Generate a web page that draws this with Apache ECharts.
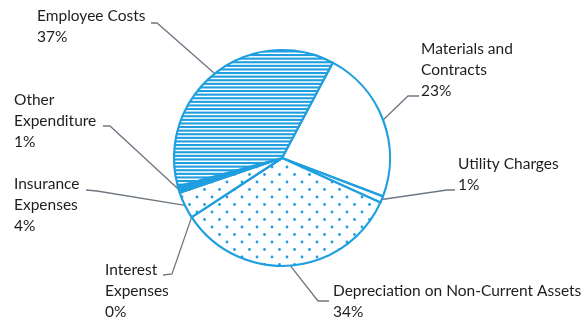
<!DOCTYPE html>
<html>
<head>
<meta charset="utf-8">
<script src="https://cdn.jsdelivr.net/npm/echarts@6/dist/echarts.min.js"></script>
<style>
  html, body { margin: 0; padding: 0; background: #ffffff; }
  #chart { width: 585px; height: 322px; }
</style>
</head>
<body>
<div id="chart"></div>
<script>
// Expenditure breakdown, listed clockwise from the Materials slice
const categories = [
  'Materials and Contracts',
  'Utility Charges',
  'Depreciation on Non-Current Assets',
  'Interest Expenses',
  'Insurance Expenses',
  'Other Expenditure',
  'Employee Costs'
];
// How each category name is broken over lines in its label
const labelNames = [
  'Materials and\nContracts',
  'Utility Charges',
  'Depreciation on Non-Current Assets',
  'Interest\nExpenses',
  'Insurance\nExpenses',
  'Other\nExpenditure',
  'Employee Costs'
];
const shares = [23, 1, 34, 0, 4, 1, 37];   // percent of total
const fillKinds = ['plain', 'plain', 'dots', 'plain', 'dots', 'solid', 'hatch'];

// Label placement: top-left of the text block, leader-line knee and end
const labelPlacement = [
  { x: 421, y: 38,  knee: [408, 96],  end: [419, 96] },
  { x: 458, y: 153, knee: [447, 190], end: [455, 190] },
  { x: 333, y: 280, knee: [318, 301], end: [329, 301] },
  { x: 105, y: 259, knee: [172, 274], end: [163, 275] },
  { x: 14,  y: 173, knee: [97, 191],  end: [86, 190] },
  { x: 14,  y: 89,  knee: [110, 126], end: [103, 126] },
  { x: 37,  y: 5,   knee: [157, 23],  end: [151, 23] }
];

const BLUE = '#1f9fdf';

function makeTile(w, h, draw) {
  const c = document.createElement('canvas');
  c.width = w; c.height = h;
  const g = c.getContext('2d');
  g.fillStyle = '#ffffff';
  g.fillRect(0, 0, w, h);
  g.fillStyle = BLUE;
  draw(g);
  return c;
}
const hatchTile = makeTile(8, 18, g => {
  for (let i = 0; i < 5; i++) g.fillRect(0, i * 3.6, 8, 2.1);
});
const dotTile = makeTile(15, 15, g => {
  g.beginPath(); g.arc(2, 2, 1.4, 0, Math.PI * 2); g.fill();
  g.beginPath(); g.arc(9.5, 9.5, 1.4, 0, Math.PI * 2); g.fill();
});

function fillFor(kind) {
  if (kind === 'hatch') return { image: hatchTile, repeat: 'repeat' };
  if (kind === 'dots') return { image: dotTile, repeat: 'repeat' };
  if (kind === 'solid') return BLUE;
  return '#ffffff';
}

const chart = echarts.init(document.getElementById('chart'), null, { renderer: 'canvas' });

chart.setOption({
  animation: false,
  backgroundColor: '#ffffff',
  series: [{
    type: 'pie',
    center: [282, 158],
    radius: 108,
    startAngle: 62,
    clockwise: true,
    avoidLabelOverlap: false,
    emphasis: { disabled: true },
    silent: true,
    itemStyle: { borderColor: BLUE, borderWidth: 2.2 },
    label: {
      show: true,
      fontFamily: 'Lato',
      fontSize: 15.5,
      lineHeight: 21,
      color: '#1e1e1e',
      formatter: p => labelNames[p.dataIndex] + '\n' + p.value + '%'
    },
    labelLine: {
      show: true,
      lineStyle: { color: '#6e7782', width: 1.3 }
    },
    labelLayout: function (p) {
      const place = labelPlacement[p.dataIndex];
      const pts = p.labelLinePoints || [place.knee];
      return {
        x: place.x,
        y: place.y,
        align: 'left',
        verticalAlign: 'top',
        labelLinePoints: [pts[0], place.knee, place.end]
      };
    },
    data: categories.map((name, i) => ({
      name: name,
      value: shares[i],
      itemStyle: { color: fillFor(fillKinds[i]) }
    }))
  }]
});
</script>
</body>
</html>
